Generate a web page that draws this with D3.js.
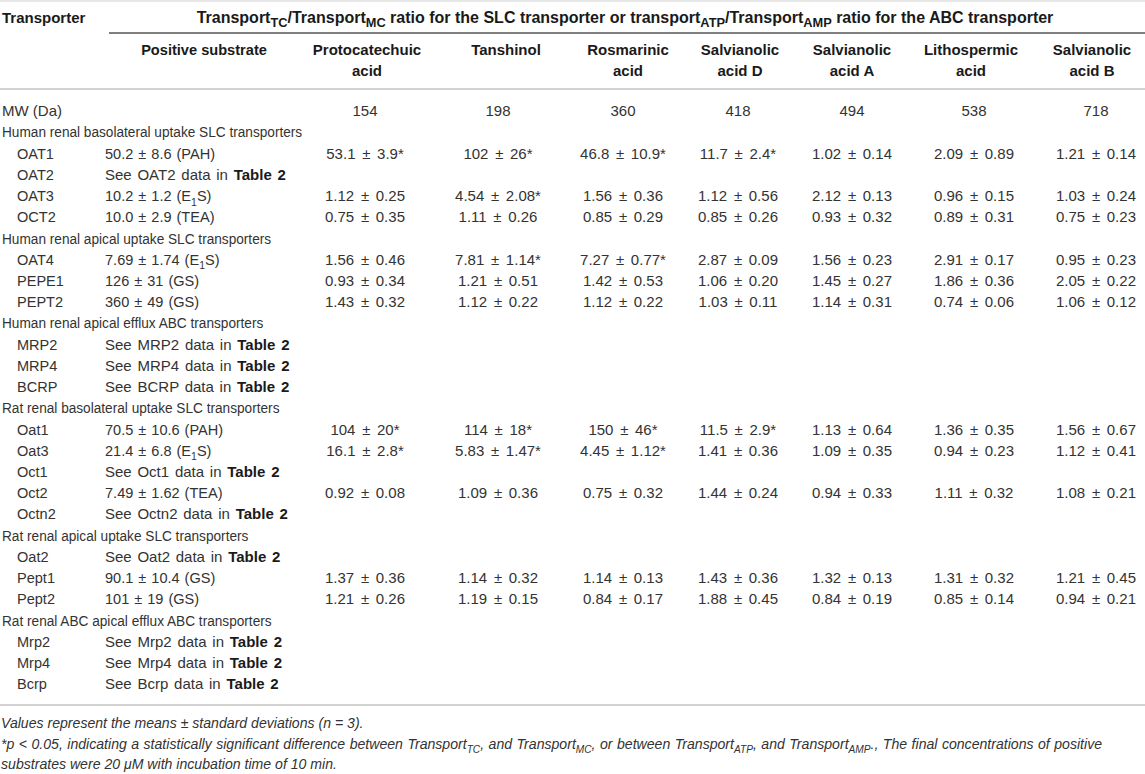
<!DOCTYPE html>
<html><head><meta charset="utf-8">
<script src="https://cdn.jsdelivr.net/npm/d3@7"></script>
<style>
body{margin:0;background:#fff}
svg{display:block}
text{font-family:"Liberation Sans",Arial,Helvetica,sans-serif}
</style>
</head><body>
<svg id="c" width="1145" height="774"></svg>
<script>
// ---------- DATA ----------
const firstColumnTitle = "Transporter";
const spanningTitle = "Transport_{TC}/Transport_{MC} ratio for the SLC transporter or transport_{ATP}/Transport_{AMP} ratio for the ABC transporter";
const substrateTitle = "Positive substrate";
const compounds = [["Protocatechuic","acid"],["Tanshinol"],["Rosmarinic","acid"],["Salvianolic","acid D"],["Salvianolic","acid A"],["Lithospermic","acid"],["Salvianolic","acid B"]];
const molecularWeights = ["154","198","360","418","494","538","718"];

const humanBasolateral = [
  ["OAT1","50.2 ± 8.6 (PAH)",["53.1 ± 3.9*","102 ± 26*","46.8 ± 10.9*","11.7 ± 2.4*","1.02 ± 0.14","2.09 ± 0.89","1.21 ± 0.14"]],
  ["OAT2",null,null],
  ["OAT3","10.2 ± 1.2 (E_{1}S)",["1.12 ± 0.25","4.54 ± 2.08*","1.56 ± 0.36","1.12 ± 0.56","2.12 ± 0.13","0.96 ± 0.15","1.03 ± 0.24"]],
  ["OCT2","10.0 ± 2.9 (TEA)",["0.75 ± 0.35","1.11 ± 0.26","0.85 ± 0.29","0.85 ± 0.26","0.93 ± 0.32","0.89 ± 0.31","0.75 ± 0.23"]]
];
const humanApical = [
  ["OAT4","7.69 ± 1.74 (E_{1}S)",["1.56 ± 0.46","7.81 ± 1.14*","7.27 ± 0.77*","2.87 ± 0.09","1.56 ± 0.23","2.91 ± 0.17","0.95 ± 0.23"]],
  ["PEPE1","126 ± 31 (GS)",["0.93 ± 0.34","1.21 ± 0.51","1.42 ± 0.53","1.06 ± 0.20","1.45 ± 0.27","1.86 ± 0.36","2.05 ± 0.22"]],
  ["PEPT2","360 ± 49 (GS)",["1.43 ± 0.32","1.12 ± 0.22","1.12 ± 0.22","1.03 ± 0.11","1.14 ± 0.31","0.74 ± 0.06","1.06 ± 0.12"]]
];
const humanEfflux = [["MRP2",null,null],["MRP4",null,null],["BCRP",null,null]];
const ratBasolateral = [
  ["Oat1","70.5 ± 10.6 (PAH)",["104 ± 20*","114 ± 18*","150 ± 46*","11.5 ± 2.9*","1.13 ± 0.64","1.36 ± 0.35","1.56 ± 0.67"]],
  ["Oat3","21.4 ± 6.8 (E_{1}S)",["16.1 ± 2.8*","5.83 ± 1.47*","4.45 ± 1.12*","1.41 ± 0.36","1.09 ± 0.35","0.94 ± 0.23","1.12 ± 0.41"]],
  ["Oct1",null,null],
  ["Oct2","7.49 ± 1.62 (TEA)",["0.92 ± 0.08","1.09 ± 0.36","0.75 ± 0.32","1.44 ± 0.24","0.94 ± 0.33","1.11 ± 0.32","1.08 ± 0.21"]],
  ["Octn2",null,null]
];
const ratApical = [
  ["Oat2",null,null],
  ["Pept1","90.1 ± 10.4 (GS)",["1.37 ± 0.36","1.14 ± 0.32","1.14 ± 0.13","1.43 ± 0.36","1.32 ± 0.13","1.31 ± 0.32","1.21 ± 0.45"]],
  ["Pept2","101 ± 19 (GS)",["1.21 ± 0.26","1.19 ± 0.15","0.84 ± 0.17","1.88 ± 0.45","0.84 ± 0.19","0.85 ± 0.14","0.94 ± 0.21"]]
];
const ratEfflux = [["Mrp2",null,null],["Mrp4",null,null],["Bcrp",null,null]];
const groups = [
  ["Human renal basolateral uptake SLC transporters", humanBasolateral],
  ["Human renal apical uptake SLC transporters", humanApical],
  ["Human renal apical efflux ABC transporters", humanEfflux],
  ["Rat renal basolateral uptake SLC transporters", ratBasolateral],
  ["Rat renal apical uptake SLC transporters", ratApical],
  ["Rat renal ABC apical efflux ABC transporters", ratEfflux]
];
const footnotes = [
  "Values represent the means ± standard deviations (n = 3).",
  "*p < 0.05, indicating a statistically significant difference between Transport_{TC}, and Transport_{MC}, or between Transport_{ATP}, and Transport_{AMP}., The final concentrations of positive",
  "substrates were 20 μM with incubation time of 10 min."
];

// ---------- LAYOUT ----------
const W = 1145;
const svg = d3.select("#c");
const FS = 15, HFS = 15, TEXT = "#333", HEAD = "#1a1a1a";

const rows = [{kind:"mw"}];
groups.forEach(([label, list]) => {
  rows.push({kind:"group", label});
  list.forEach(r => rows.push({kind:"item", name:r[0], substrate:r[1], values:r[2]}));
});

const y = d3.scaleLinear().domain([0, rows.length - 1]).range([111, 684]);
const colNames = compounds.map(c => c.join(" "));
const xData = d3.scaleOrdinal().domain(colNames).range([365, 498, 623, 738, 852, 974, 1096]);
const xHead = d3.scaleOrdinal().domain(colNames).range([367, 506, 628, 740, 852, 971, 1092]);

function txt(x, yy, anchor, size, sx) {
  return svg.append("text")
    .attr("transform", `translate(${x},${yy}) scale(${sx || 1},1)`)
    .attr("dy", "0.35em").attr("text-anchor", anchor)
    .attr("font-size", size).attr("fill", TEXT);
}

function rich(textSel, str, size, subRatio) {
  const parts = [];
  const re = /_\{([^}]*)\}|\*\*([^*]*)\*\*/g;
  let last = 0, m;
  while ((m = re.exec(str))) {
    if (m.index > last) parts.push({t: str.slice(last, m.index)});
    if (m[1] !== undefined) parts.push({t: m[1], sub: true});
    else parts.push({t: m[2], bold: true});
    last = re.lastIndex;
  }
  if (last < str.length) parts.push({t: str.slice(last)});
  let shifted = false;
  const sr = subRatio || 0.72;
  parts.forEach(p => {
    const ts = textSel.append("tspan").text(p.t);
    if (p.sub) {
      ts.attr("font-size", size * sr);
      if (!shifted) { ts.attr("dy", size * 0.3); shifted = true; }
    } else {
      if (shifted) { ts.attr("dy", -size * 0.3); shifted = false; }
      if (p.bold) ts.attr("font-weight", "bold").attr("fill", HEAD);
    }
  });
  return textSel;
}

// rules
svg.append("line").attr("x1",0).attr("x2",W).attr("y1",1).attr("y2",1).attr("stroke","#d0d0d0").attr("stroke-width",1.2);
svg.append("line").attr("x1",109).attr("x2",W).attr("y1",33).attr("y2",33).attr("stroke","#555").attr("stroke-width",1.3);
svg.append("line").attr("x1",0).attr("x2",W).attr("y1",89).attr("y2",89).attr("stroke","#c4c4c4").attr("stroke-width",1.3);
svg.append("line").attr("x1",0).attr("x2",W).attr("y1",705).attr("y2",705).attr("stroke","#c4c4c4").attr("stroke-width",1.3);

// header
txt(2, 18, "start", HFS).attr("font-weight","bold").attr("fill",HEAD).text(firstColumnTitle);
rich(txt(625, 17, "middle", 16).attr("font-weight","bold").attr("fill",HEAD), spanningTitle, 16, 0.8);
txt(204, 50, "middle", 14.6).attr("font-weight","bold").attr("fill",HEAD).text(substrateTitle);
compounds.forEach((lines, i) => {
  lines.forEach((ln, j) => {
    txt(xHead(colNames[i]), 50 + j * 21, "middle", HFS).attr("font-weight","bold").attr("fill",HEAD).text(ln);
  });
});

// body
rows.forEach((r, i) => {
  const yy = y(i);
  if (r.kind === "mw") {
    txt(2, yy, "start", FS).text("MW (Da)");
    molecularWeights.forEach((v, k) => txt(xData(colNames[k]), yy, "middle", FS).text(v));
  } else if (r.kind === "group") {
    txt(2, yy, "start", FS, 0.91).text(r.label);
  } else {
    txt(17, yy, "start", FS, 0.97).text(r.name);
    if (r.substrate === null) {
      rich(txt(105, yy, "start", FS).attr("word-spacing", 1.6), "See " + r.name + " data in **Table 2**", FS);
    } else {
      rich(txt(105, yy, "start", FS, 0.97).attr("word-spacing", 1), r.substrate, FS);
      r.values.forEach((v, k) => txt(xData(colNames[k]), yy, "middle", FS).attr("word-spacing", 2.5).text(v));
    }
  }
});

// footnotes
const NF = 14.1;
const justifyTo = [null, 1102, null];
[723, 744, 764].forEach((yy, i) => {
  const t = rich(txt(1, yy, "start", NF).attr("font-style","italic"), footnotes[i], NF);
  if (justifyTo[i]) {
    const natural = t.node().getComputedTextLength();
    const spaces = (footnotes[i].match(/ /g) || []).length;
    t.attr("word-spacing", (justifyTo[i] - 1 - natural) / spaces);
  }
});
</script>
</body></html>
